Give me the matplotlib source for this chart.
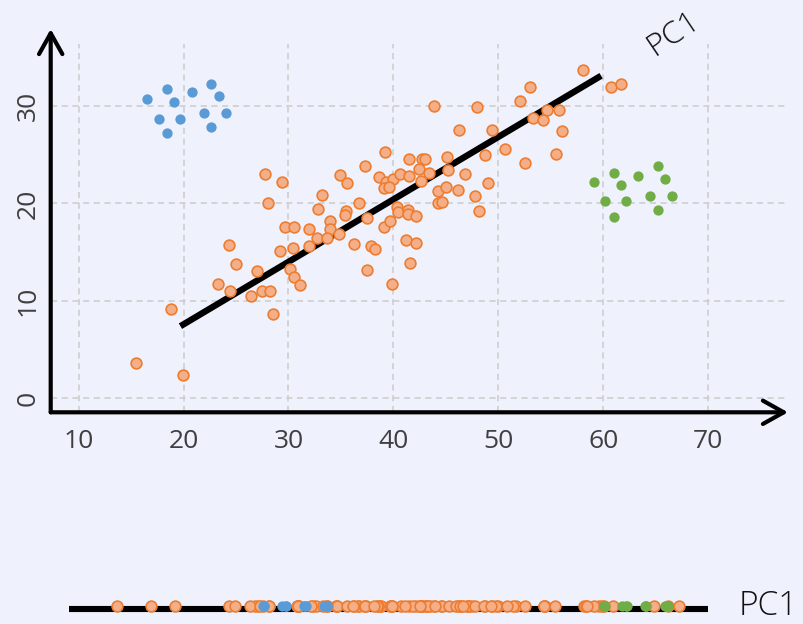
import numpy as np
import matplotlib.pyplot as plt

plt.rcParams['font.family'] = ['Open Sans', 'DejaVu Sans']

# --- data ---
orange_x = [27.8, 29.4, 28.0, 29.7, 24.3, 29.2, 25.0, 27.0, 30.1, 23.3,
            24.4, 26.4, 27.5, 28.2, 28.5, 18.8, 15.5, 19.9, 30.5, 31.1,
            30.5, 30.4, 32.0, 32.7, 32.0, 34.0, 34.0, 33.7, 34.8, 36.2,
            37.5, 37.9, 38.2, 37.5, 39.1, 39.7, 39.9, 39.2, 37.3, 34.9,
            35.6, 38.6, 39.3, 40.0, 40.6, 39.1, 39.6, 33.2, 32.8, 36.7,
            35.5, 35.4, 40.3, 40.4, 41.4, 41.4, 42.2, 41.2, 42.2, 41.6,
            46.3, 49.4, 50.6, 48.7, 45.1, 41.5, 42.7, 43.0, 41.5, 42.4,
            43.4, 42.6, 45.2, 46.8, 49.0, 44.3, 45.0, 46.2, 47.8, 44.3,
            44.6, 48.2, 43.9, 58.1, 60.7, 61.7, 53.0, 52.1, 48.0, 54.6,
            55.8, 53.3, 54.3, 56.1, 52.5, 55.5]
orange_y = [23.0, 22.2, 20.0, 17.6, 15.7, 15.1, 13.8, 13.1, 13.3, 11.7,
            11.0, 10.5, 11.0, 11.0, 8.6, 9.2, 3.6, 2.4, 12.4, 11.6,
            17.6, 15.4, 17.4, 16.4, 15.6, 18.2, 17.4, 16.5, 16.9, 15.8,
            13.2, 15.6, 15.3, 18.5, 17.6, 18.2, 11.7, 25.3, 23.8, 22.9,
            22.1, 22.7, 22.2, 22.5, 23.0, 21.6, 21.7, 20.9, 19.4, 20.0,
            19.2, 18.8, 19.6, 19.1, 19.3, 18.9, 18.7, 16.2, 15.9, 13.9,
            27.5, 27.5, 25.6, 25.0, 24.8, 24.6, 24.6, 24.6, 22.8, 23.5,
            23.1, 22.3, 23.4, 23.0, 22.1, 21.3, 21.7, 21.4, 20.8, 20.0,
            20.1, 19.2, 30.0, 33.7, 31.9, 32.3, 31.9, 30.5, 29.9, 29.6,
            29.6, 28.8, 28.6, 27.4, 24.1, 25.1]

blue_x = [16.5, 18.4, 19.1, 20.8, 22.6, 23.4, 21.9, 24.0, 17.7, 19.7, 22.6, 18.4]
blue_y = [30.7, 31.7, 30.4, 31.4, 32.3, 31.0, 29.3, 29.3, 28.7, 28.7, 27.8, 27.2]

green_x = [59.1, 61.0, 61.7, 63.3, 65.2, 65.9, 64.5, 66.6, 60.2, 62.2, 65.2, 61.0]
green_y = [22.2, 23.1, 21.9, 22.8, 23.8, 22.5, 20.8, 20.8, 20.2, 20.2, 19.3, 18.6]

pc1_x = [19.7, 59.8]
pc1_y = [7.4, 33.1]
pc1_angle = 29.4          # degrees, direction used for the 1-D projection

x_ticks = [10, 20, 30, 40, 50, 60, 70]
y_ticks = [0, 10, 20, 30]

# --- colours ---
bg = '#EFF2FD'
orange_face, orange_edge = '#F4AE88', '#ED7D31'
blue_c, green_c = '#5B9BD5', '#70AD47'
tick_c = '#3f3f3f'

fig = plt.figure(figsize=(8.04, 6.24), dpi=100, facecolor=bg)

# --- main scatter ---
ax = fig.add_axes([50.7 / 804, 211.7 / 624, 737.3 / 804, 368.3 / 624])
ax.set_facecolor(bg)
ax.set_xlim(7.33, 77.62)
ax.set_ylim(-1.44, 36.36)
for s in ax.spines.values():
    s.set_visible(False)
ax.set_xticks(x_ticks)
ax.set_yticks(y_ticks)
ax.tick_params(length=0, labelsize=19, labelcolor=tick_c)
ax.tick_params(axis='x', pad=12)
ax.tick_params(axis='y', pad=7)
for lab in ax.get_yticklabels():
    lab.set_rotation(90)
    lab.set_va('center')
ax.grid(True, color='#cbcbcb', linestyle=(0, (4, 3)), linewidth=1.1)
ax.set_axisbelow(True)

ax.plot(pc1_x, pc1_y, color='black', linewidth=4.6, solid_capstyle='butt', zorder=2)
ax.scatter(orange_x, orange_y, s=60, facecolor=orange_face, edgecolor=orange_edge,
           linewidth=1.2, zorder=3)
ax.scatter(blue_x, blue_y, s=55, color=blue_c, linewidth=0, zorder=3)
ax.scatter(green_x, green_y, s=55, color=green_c, linewidth=0, zorder=3)

arrow = dict(arrowstyle='->,head_length=0.75,head_width=0.42', color='black',
             linewidth=3.0, shrinkA=0, shrinkB=0, mutation_scale=20)
ax.annotate('', xy=(77.62, -1.44), xytext=(7.33, -1.44), arrowprops=arrow,
            annotation_clip=False)
ax.annotate('', xy=(7.33, 37.9), xytext=(7.33, -1.44), arrowprops=arrow,
            annotation_clip=False)

ax.text(66.7, 37.4, 'PC1', fontsize=23, fontweight='light', rotation=34,
        ha='center', va='center', color='#111111', clip_on=False)

# --- 1-D projection onto PC1 ---
th = np.deg2rad(pc1_angle)


def project(xs, ys):
    return np.asarray(xs) * np.cos(th) + np.asarray(ys) * np.sin(th)


ax2 = fig.add_axes([69 / 804, 2 / 624, 639 / 804, 32 / 624])
ax2.set_facecolor('none')
ax2.axis('off')
ax2.set_xlim(10.63, 72.37)
ax2.set_ylim(-1, 1)
ax2.axhline(-0.18, color='black', linewidth=4.4, solid_capstyle='butt', zorder=1)
zero = np.zeros(len(orange_x))
ax2.scatter(project(orange_x, orange_y), zero, s=60, facecolor=orange_face,
            edgecolor=orange_edge, linewidth=1.2, zorder=2, clip_on=False)
ax2.scatter(project(blue_x, blue_y), np.zeros(len(blue_x)), s=55, color=blue_c,
            linewidth=0, zorder=3, clip_on=False)
ax2.scatter(project(green_x, green_y), np.zeros(len(green_x)), s=55, color=green_c,
            linewidth=0, zorder=3, clip_on=False)
ax2.text(75.3, 0, 'PC1', fontsize=24, fontweight='light', ha='left', va='center',
         color='#111111', clip_on=False)

fig.savefig('out.png', dpi=100, facecolor=bg)
